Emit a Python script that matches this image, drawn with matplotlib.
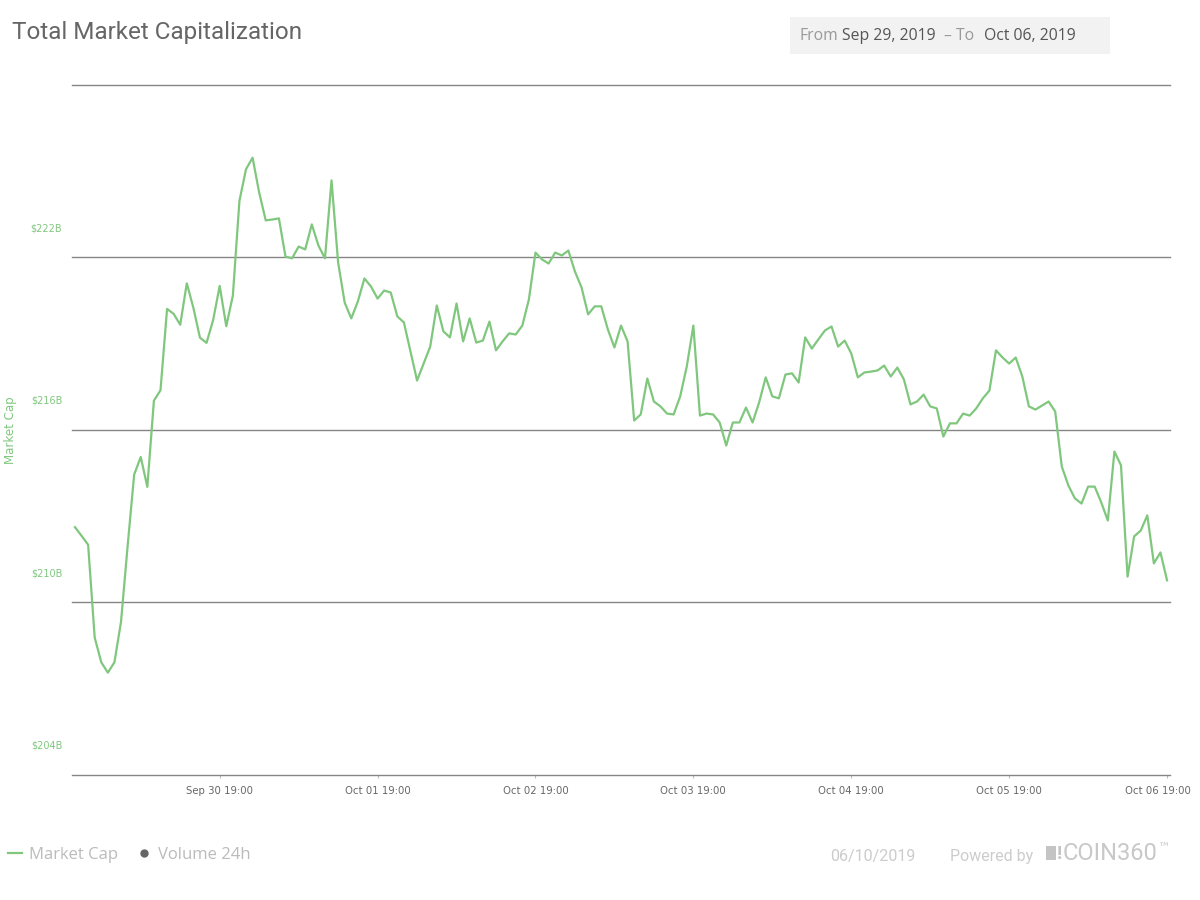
import pandas as pd
import matplotlib.pyplot as plt
import matplotlib.dates as mdates
from matplotlib.lines import Line2D
from matplotlib.patches import Rectangle
from matplotlib.transforms import ScaledTranslation

# ===== Data (hourly total market cap, billions USD) =====
start_time = "2019-09-29 21:00"
market_cap = [
    212.62, 212.32, 212.01, 208.78, 207.92, 207.56, 207.92, 209.33, 211.95, 214.45,
    215.06, 214.02, 217.02, 217.38, 220.21, 220.04, 219.66, 221.10, 220.25, 219.21,
    219.03, 219.82, 221.01, 219.61, 220.67, 223.97, 225.07, 225.47, 224.26, 223.29,
    223.32, 223.36, 222.03, 221.97, 222.38, 222.28, 223.15, 222.42, 221.97, 224.68,
    221.83, 220.43, 219.88, 220.47, 221.27, 220.99, 220.57, 220.85, 220.78, 219.95,
    219.74, 218.73, 217.72, 218.31, 218.90, 220.33, 219.43, 219.22, 220.40, 219.08,
    219.88, 219.04, 219.11, 219.77, 218.77, 219.08, 219.36, 219.32, 219.63, 220.54,
    222.17, 221.93, 221.79, 222.17, 222.07, 222.24, 221.51, 220.96, 220.02, 220.30,
    220.30, 219.50, 218.87, 219.63, 219.08, 216.33, 216.54, 217.79, 216.99, 216.82,
    216.57, 216.54, 217.17, 218.21, 219.63, 216.50, 216.57, 216.54, 216.26, 215.46,
    216.26, 216.26, 216.78, 216.26, 216.96, 217.83, 217.17, 217.10, 217.93, 217.97,
    217.65, 219.22, 218.83, 219.15, 219.46, 219.60, 218.90, 219.11, 218.66, 217.83,
    218.00, 218.03, 218.07, 218.24, 217.86, 218.17, 217.76, 216.89, 216.99, 217.23,
    216.82, 216.75, 215.77, 216.23, 216.23, 216.57, 216.50, 216.75, 217.10, 217.37,
    218.77, 218.52, 218.31, 218.52, 217.86, 216.82, 216.71, 216.85, 216.99, 216.64,
    214.73, 214.07, 213.62, 213.44, 214.03, 214.03, 213.48, 212.85, 215.25, 214.77,
    210.90, 212.30, 212.50, 213.03, 211.36, 211.74, 210.77,
]
y_ticks = [204, 210, 216, 222, 228]
y_tick_labels = ["$204B", "$210B", "$216B", "$222B", ""]
x_tick_start = "2019-09-30 19:00"
x_tick_count = 7

GREEN = "#80c77e"


def px(x, y):
    # pixel position (from top-left) -> figure fraction
    return x / 1200, 1 - y / 900


def main():
    times = pd.date_range(start_time, periods=len(market_cap), freq="h")
    x_ticks = pd.date_range(x_tick_start, periods=x_tick_count, freq="D")

    fig = plt.figure(figsize=(12, 9), dpi=100)
    ax = fig.add_axes([0.06, 0.1389, 0.915, 0.7667])

    ax.plot(times, market_cap, color=GREEN, lw=1.6, label="Market Cap")

    pad = pd.Timedelta(minutes=27)
    ax.set_xlim(times[0] - pad, times[-1] + pad)
    ax.set_ylim(y_ticks[0], y_ticks[-1])

    for s in ax.spines.values():
        s.set_visible(False)

    ax.set_yticks(y_ticks)
    ax.set_yticklabels(y_tick_labels)
    ax.yaxis.grid(True, color="#858585", lw=1)
    for gl in ax.get_ygridlines():
        gl.set_clip_on(False)
    ax.set_axisbelow(True)
    ax.tick_params(axis="y", length=0, pad=7, labelsize=7, labelcolor=GREEN)
    # labels sit above their grid lines, like in the original widget
    up = ScaledTranslation(0, 0.30, fig.dpi_scale_trans)
    for lab in ax.get_yticklabels():
        lab.set_transform(lab.get_transform() + up)

    ax.set_xticks(x_ticks)
    ax.xaxis.set_major_formatter(mdates.DateFormatter("%b %d %H:%M"))
    ax.tick_params(axis="x", length=2, color="#bbbbbb", pad=6,
                   labelsize=7.3, labelcolor="#666666")
    last = ax.get_xticklabels()[-1]
    last.set_transform(last.get_transform() + ScaledTranslation(-0.09, 0, fig.dpi_scale_trans))

    ax.set_ylabel("Market Cap", color=GREEN, fontsize=8.5)
    ax.yaxis.set_label_coords(-0.0501, 0.5)

    # title and date range box
    fig.text(*px(12, 32), "Total Market Capitalization", family="Roboto",
             fontsize=17.5, color="#666666", va="center", ha="left")
    fig.patches.append(Rectangle(px(790, 54), 320 / 1200, 37 / 900,
                                 transform=fig.transFigure, facecolor="#f2f2f2",
                                 edgecolor="none"))
    date_font = {"family": "Open Sans", "fontsize": 11.3, "va": "center"}
    fig.text(*px(799, 36), "From", color="#999999", **date_font)
    fig.text(*px(842, 36), "Sep 29, 2019", color="#555555", **date_font)
    fig.text(*px(944, 36), "– To", color="#999999", **date_font)
    fig.text(*px(984, 36), "Oct 06, 2019", color="#555555", **date_font)

    # legend
    handles = [Line2D([], [], color=GREEN, lw=1.6),
               Line2D([], [], color="#666666", marker="o", ms=5, lw=0)]
    leg = fig.legend(handles, ["Market Cap", "Volume 24h"], loc="center left",
                     bbox_to_anchor=px(8, 855), ncol=2, frameon=False,
                     borderpad=0, borderaxespad=0,
                     handlelength=0.85, handletextpad=0.42, columnspacing=1.15,
                     prop={"family": "Open Sans", "size": 12})
    for t in leg.get_texts():
        t.set_color("#bbbbbb")

    # footer
    foot = {"family": "Roboto", "fontsize": 11.5, "color": "#cccccc", "va": "center"}
    fig.text(*px(830, 856), "06/10/2019", **foot)
    fig.text(*px(950, 856), "Powered by", **foot)
    fig.patches.append(Rectangle(px(1046, 860), 10 / 1200, 14 / 900,
                                 transform=fig.transFigure, facecolor="#c4c4c4",
                                 edgecolor="none"))
    fig.text(*px(1057, 854), "!", family="Roboto", fontsize=14, weight="bold",
             color="#c4c4c4", va="center")
    fig.text(*px(1063, 854), "COIN360", family="Roboto", fontsize=17,
             color="#c8c8c8", va="center")
    fig.text(*px(1157, 849), "™", family="DejaVu Sans", fontsize=9,
             color="#c8c8c8", va="center")

    fig.savefig("out.png", dpi=100, facecolor="white")
    plt.close(fig)


if __name__ == "__main__":
    main()
